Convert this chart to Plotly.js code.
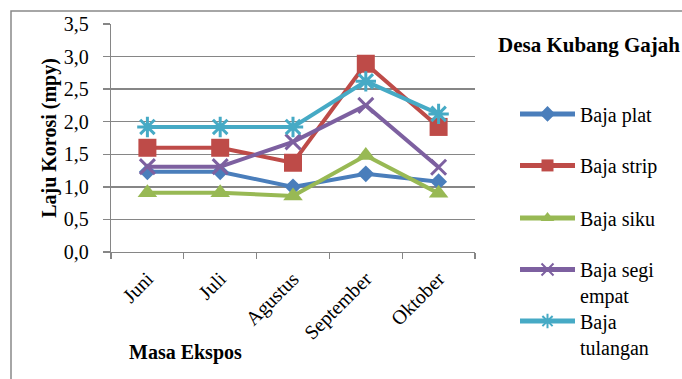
<!DOCTYPE html>
<html>
<head>
<meta charset="utf-8">
<script src="https://cdn.plot.ly/plotly-3.0.1.min.js"></script>
<style>html,body{margin:0;padding:0;background:#fff;}</style>
</head>
<body>
<div id="chart" style="width:682px;height:379px;"></div>
<script>
var months = ["Juni", "Juli", "Agustus", "September", "Oktober"];
var bajaPlat = [1.23, 1.23, 1.00, 1.20, 1.08];
var bajaStrip = [1.60, 1.60, 1.37, 2.89, 1.92];
var bajaSiku = [0.91, 0.91, 0.86, 1.48, 0.90];
var bajaSegiEmpat = [1.31, 1.31, 1.69, 2.25, 1.30];
var bajaTulangan = [1.92, 1.92, 1.92, 2.62, 2.12];
var seriesNames = ["Baja plat", "Baja strip", "Baja siku", "Baja segi<br>empat", "Baja<br>tulangan"];
var yTitle = "Laju Korosi (mpy)";
var xTitle = "Masa Ekspos";
var legendTitle = "Desa Kubang Gajah";

var FONT = "Liberation Serif";
var W = 682, H = 379, L = 111, R = 475, T = 24, B = 254;
function px2x(p){ return (p - L) / (R - L); }
function py2y(p){ return (B - p) / (B - T); }

var styles = [
  {color: "#4A7EBB", symbol: "diamond", size: 13, lw: 0, lc: "#4A7EBB"},
  {color: "#BE4B48", symbol: "square", size: 18, lw: 0, lc: "#BE4B48"},
  {color: "#98B954", symbol: "triangle-up", size: 17, lw: 0, lc: "#98B954"},
  {color: "#7D60A0", symbol: "x-thin-open", size: 15, lw: 3, lc: "#7D60A0"},
  {color: "#46AAC5", symbol: "asterisk-open", size: 17, lw: 3, lc: "#46AAC5"}
];
var data = [bajaPlat, bajaStrip, bajaSiku, bajaSegiEmpat, bajaTulangan];
var legendNames = ["legend", "legend2", "legend3", "legend4", "legend5"];
var legendY = [110, 162, 215, 267, 319];

var traces = data.map(function(vals, i){
  var s = styles[i];
  return {
    x: months, y: vals, type: "scatter", mode: "lines+markers",
    name: seriesNames[i],
    legend: legendNames[i],
    line: {color: s.color, width: 4},
    marker: {symbol: s.symbol, size: s.size, color: s.color, line: {width: s.lw, color: s.lc}}
  };
});

var layout = {
  width: W, height: H, autosize: false,
  margin: {l: L, r: W - R, t: T, b: H - B, pad: 0},
  paper_bgcolor: "#fff", plot_bgcolor: "#fff",
  separators: ",.",
  font: {family: FONT, size: 20, color: "#000"},
  xaxis: {
    type: "category", range: [-0.5, 4.5],
    showline: true, linecolor: "#868686", linewidth: 1.3,
    showgrid: false, zeroline: false,
    ticks: "outside", tickson: "boundaries", ticklen: 6, tickcolor: "#868686", tickwidth: 1.3,
    ticklabelstandoff: 6,
    tickangle: -45, tickfont: {family: FONT, size: 20, color: "#000"}
  },
  yaxis: {
    range: [0, 3.5], dtick: 0.5, tickformat: ".1f",
    showline: true, linecolor: "#868686", linewidth: 1.3,
    showgrid: true, gridcolor: "#868686", gridwidth: 1.3, zeroline: false,
    ticks: "outside", ticklen: 7, tickcolor: "#868686", tickwidth: 1.3,
    ticklabelstandoff: 10,
    tickfont: {family: FONT, size: 20, color: "#000"},
    title: {text: yTitle, font: {family: FONT, size: 20, weight: "bold", color: "#000"}, standoff: 1}
  },
  annotations: [
    {text: xTitle, xref: "paper", yref: "paper", x: px2x(185), y: py2y(355), xanchor: "center", yanchor: "middle", showarrow: false,
     font: {family: FONT, size: 20, weight: "bold", color: "#000"}},
    {text: legendTitle, xref: "paper", yref: "paper", x: px2x(496), y: py2y(45), xanchor: "left", yanchor: "middle", showarrow: false,
     font: {family: FONT, size: 21, weight: "bold", color: "#000"}}
  ],
  shapes: [
    {type: "rect", xref: "paper", yref: "paper", x0: px2x(11), x1: px2x(760), y0: py2y(440), y1: py2y(11),
     line: {color: "#898989", width: 1.5}, fillcolor: "rgba(0,0,0,0)", layer: "below"}
  ],
  showlegend: true
};
legendNames.forEach(function(ln, i){
  layout[ln] = {
    x: px2x(515), xanchor: "left",
    y: py2y(legendY[i] - 15), yanchor: "top",
    bgcolor: "rgba(0,0,0,0)", borderwidth: 0,
    itemwidth: 55, valign: "top", itemsizing: "constant",
    font: {family: FONT, size: 20, color: "#000"}
  };
});

Plotly.newPlot("chart", traces, layout, {displayModeBar: false, staticPlot: true});
</script>
</body>
</html>
